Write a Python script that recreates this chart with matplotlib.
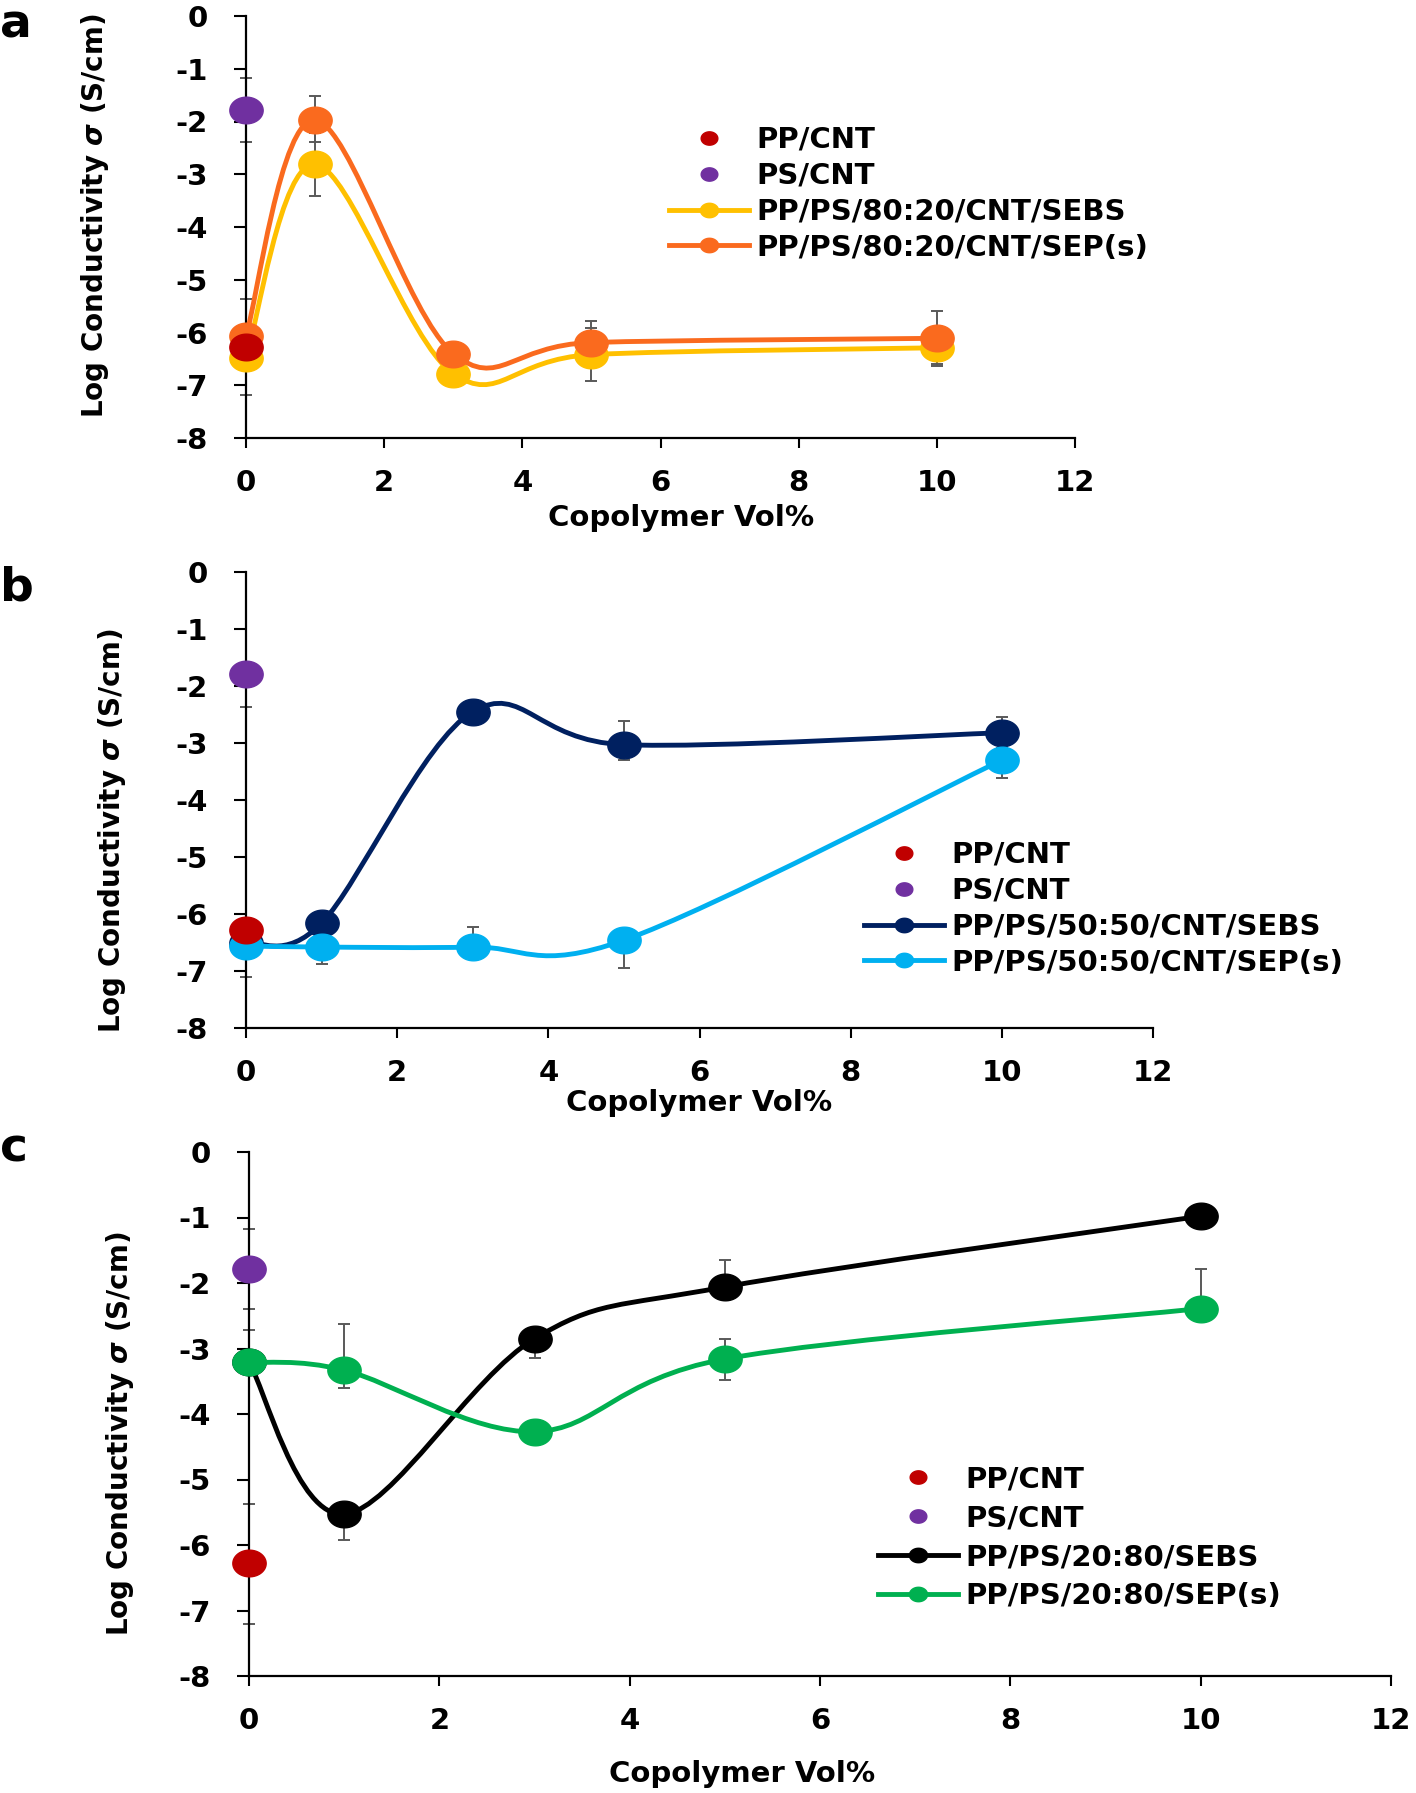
import numpy as np
import matplotlib
matplotlib.use("Agg")
import matplotlib.pyplot as plt
from matplotlib.path import Path
from matplotlib.patches import PathPatch
from matplotlib.lines import Line2D

plt.rcParams['font.family'] = ['DejaVu Sans']
plt.rcParams['font.weight'] = 'bold'

# ---------------- data ----------------
x_vol = [0, 1, 3, 5, 10]
xticks = [0, 2, 4, 6, 8, 10, 12]
yticks = [0, -1, -2, -3, -4, -5, -6, -7, -8]

pp_cnt = -6.28
ps_cnt = -1.79

# panel a : PP/PS 80:20
a_labels = ["PP/CNT", "PS/CNT", "PP/PS/80:20/CNT/SEBS", "PP/PS/80:20/CNT/SEP(s)"]
a_sebs = [-6.48, -2.81, -6.78, -6.42, -6.29]
a_sebs_lo = [0, 0.60, 0, 0.50, 0.30]
a_sebs_hi = [0, 0.60, 0, 0.50, 0.30]
a_sep = [-6.06, -1.97, -6.40, -6.19, -6.11]
a_sep_lo = [0, 0.42, 0, 0.40, 0.52]
a_sep_hi = [0, 0.45, 0, 0.40, 0.52]
a_pp_err = [0.91, 0.91]   # lower, upper
a_ps_err = [0.60, 0.62]

# panel b : PP/PS 50:50
b_labels = ["PP/CNT", "PS/CNT", "PP/PS/50:50/CNT/SEBS", "PP/PS/50:50/CNT/SEP(s)"]
b_sebs = [-6.50, -6.16, -2.45, -3.03, -2.82]
b_sebs_lo = [0, 0, 0, 0.26, 0.27]
b_sebs_hi = [0, 0, 0, 0.42, 0.27]
b_sep = [-6.56, -6.58, -6.58, -6.46, -3.30]
b_sep_lo = [0, 0.29, 0, 0.49, 0.32]
b_sep_hi = [0, 0, 0.35, 0, 0]
b_pp_err = [0.83, 0]
b_ps_err = [0.57, 0]

# panel c : PP/PS 20:80
c_labels = ["PP/CNT", "PS/CNT", "PP/PS/20:80/SEBS", "PP/PS/20:80/SEP(s)"]
c_sebs = [-3.21, -5.53, -2.85, -2.06, -0.98]
c_sebs_lo = [0, 0.39, 0.29, 0, 0]
c_sebs_hi = [0, 0, 0, 0.41, 0]
c_sep = [-3.21, -3.33, -4.27, -3.16, -2.39]
c_sep_lo = [0, 0.28, 0, 0.32, 0]
c_sep_hi = [0.49, 0.71, 0, 0.31, 0.60]
c_pp_err = [0.92, 0.91]
c_ps_err = [0.60, 0.61]

RED = "#C00000"
PURPLE = "#7030A0"
ERR = "#595959"

# ellipse marker (the reference is slightly stretched horizontally)
th = np.linspace(0, 2 * np.pi, 60)
ELL = Path(np.column_stack([np.cos(th), 0.8 * np.sin(th)]), closed=True)


def smooth_path(x, y):
    P = np.column_stack([x, y]).astype(float)
    n = len(P)
    verts = [P[0]]
    codes = [Path.MOVETO]
    for i in range(n - 1):
        p0 = P[i - 1] if i > 0 else P[i]
        p1 = P[i]
        p2 = P[i + 1]
        p3 = P[i + 2] if i + 2 < n else P[i + 1]
        c1 = p1 + (p2 - p0) / 6.0
        c2 = p2 - (p3 - p1) / 6.0
        verts += [c1, c2, p2]
        codes += [Path.CURVE4] * 3
    return Path(verts, codes)


W, H = 1416, 1793
fig = plt.figure(figsize=(W / 100, H / 100), dpi=100)


def rect(l, r, t, b):
    return [l / W, 1 - b / H, (r - l) / W, (b - t) / H]


def panel(rc, labels, sebs, sebs_lo, sebs_hi, sep, sep_lo, sep_hi,
          pp_err, ps_err, col1, col2, ylab_pos, xlab_pos, leg_pos, lspace,
          letter, letter_pos):
    ax = fig.add_axes(rc)
    ax.set_xlim(0, 12)
    ax.set_ylim(-8, 0)
    for s in ['top', 'right']:
        ax.spines[s].set_visible(False)
    for s in ['left', 'bottom']:
        ax.spines[s].set_linewidth(1.6)
    ax.set_xticks(xticks)
    ax.set_yticks(yticks)
    ax.set_yticklabels([str(v) for v in yticks])
    ax.tick_params(axis='x', direction='out', length=7, width=1.5, pad=15,
                   labelsize=21)
    ax.tick_params(axis='y', direction='out', length=8.5, width=1.5, pad=19,
                   labelsize=21)
    for lab in ax.get_xticklabels() + ax.get_yticklabels():
        lab.set_fontweight('bold')

    ek = dict(fmt='none', ecolor=ERR, elinewidth=1.4, capsize=4.5,
              capthick=1.4, zorder=2, clip_on=False)
    ax.errorbar(x_vol, sebs, yerr=[sebs_lo, sebs_hi], **ek)
    ax.errorbar(x_vol, sep, yerr=[sep_lo, sep_hi], **ek)
    ax.errorbar([0], [pp_cnt], yerr=[[pp_err[0]], [pp_err[1]]], **ek)
    ax.errorbar([0], [ps_cnt], yerr=[[ps_err[0]], [ps_err[1]]], **ek)

    for ys, col, z in [(sebs, col1, 3), (sep, col2, 4)]:
        ax.add_patch(PathPatch(smooth_path(x_vol, ys), fill=False,
                               edgecolor=col, lw=3.5, zorder=z,
                               clip_on=False, capstyle='round'))
        ax.plot(x_vol, ys, linestyle='none', marker=ELL, markersize=24,
                color=col, zorder=z + 0.5, clip_on=False)
    ax.plot([0], [pp_cnt], linestyle='none', marker=ELL, markersize=24,
            color=RED, zorder=6, clip_on=False)
    ax.plot([0], [ps_cnt], linestyle='none', marker=ELL, markersize=24,
            color=PURPLE, zorder=6, clip_on=False)

    ax.set_ylabel("Log Conductivity $\\sigma$ (S/cm)", fontsize=20,
                  fontweight='bold')
    ax.yaxis.set_label_coords(*ylab_pos)
    ax.set_xlabel("Copolymer Vol%", fontsize=21, fontweight='bold')
    ax.xaxis.set_label_coords(*xlab_pos)

    handles = [
        Line2D([], [], linestyle='none', marker=ELL, markersize=12, color=RED),
        Line2D([], [], linestyle='none', marker=ELL, markersize=12, color=PURPLE),
        Line2D([], [], color=col1, lw=3.5, marker=ELL, markersize=13),
        Line2D([], [], color=col2, lw=3.5, marker=ELL, markersize=13),
    ]
    ax.legend(handles, labels, loc='upper left',
              bbox_to_anchor=(leg_pos[0] / W, 1 - leg_pos[1] / H),
              bbox_transform=fig.transFigure, frameon=False,
              borderpad=0, borderaxespad=0, handlelength=2.75,
              handletextpad=0.25, labelspacing=lspace,
              prop={'size': 21, 'weight': 'bold'})
    fig.text(letter_pos[0] / W, 1 - letter_pos[1] / H, letter, fontsize=34,
             fontweight='heavy', ha='left', va='baseline')
    return ax


panel(rect(246, 1075, 16, 438), a_labels, a_sebs, a_sebs_lo, a_sebs_hi,
      a_sep, a_sep_lo, a_sep_hi, a_pp_err, a_ps_err, "#FFC000", "#FA6A1E",
      (-0.163, 0.528), (0.525, -0.156), (669, 126), 0.27, "a", (0, 38))

panel(rect(246, 1153, 572, 1028), b_labels, b_sebs, b_sebs_lo, b_sebs_hi,
      b_sep, b_sep_lo, b_sep_hi, b_pp_err, b_ps_err, "#002060", "#00B0F0",
      (-0.130, 0.432), (0.5, -0.134), (864, 841), 0.27, "b", (0, 600))

panel(rect(249, 1391, 1152, 1676), c_labels, c_sebs, c_sebs_lo, c_sebs_hi,
      c_sep, c_sep_lo, c_sep_hi, c_pp_err, c_ps_err, "#000000", "#00B050",
      (-0.099, 0.462), (0.432, -0.160), (878, 1465), 0.38, "c", (0, 1161))

fig.savefig("out.png", dpi=100)
